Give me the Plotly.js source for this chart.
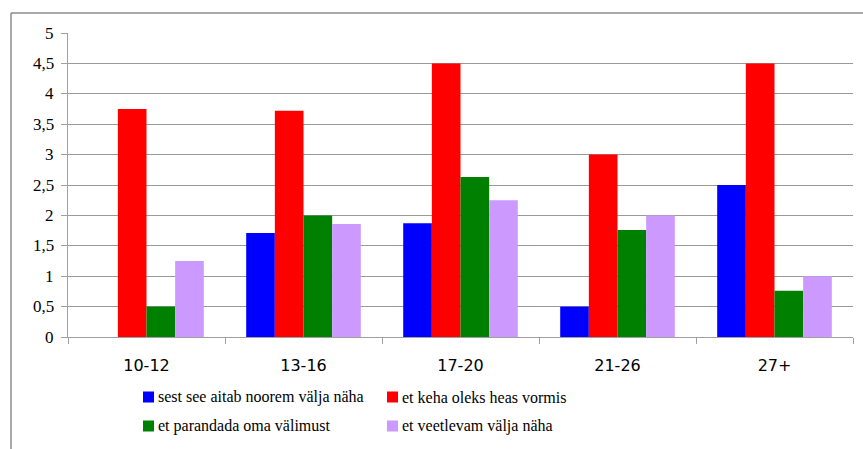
<!DOCTYPE html>
<html><head><meta charset="utf-8">
<script src="https://cdn.plot.ly/plotly-3.0.1.min.js"></script>
<style>
html,body{margin:0;padding:0;background:#fff}
#c{width:863px;height:449px}
#fontwarm{position:absolute;left:-9999px;top:0;font-family:'Liberation Serif';font-size:16px}
</style>
</head><body><span id="fontwarm">sest see aitab noorem välja näha 0,5</span><div id="c"></div>
<script>
const categories = ["10-12","13-16","17-20","21-26","27+"];
const seriesNames = ["sest see aitab noorem välja näha","et keha oleks heas vormis","et parandada oma välimust","et veetlevam välja näha"];
const younger = [0, 1.71, 1.87, 0.5, 2.5];
const fit = [3.75, 3.72, 4.5, 3, 4.5];
const appearance = [0.5, 2, 2.63, 1.76, 0.76];
const attractive = [1.25, 1.86, 2.25, 2, 1];
const yTicks = [0,0.5,1,1.5,2,2.5,3,3.5,4,4.5,5];
const yTickText = ["0","0,5","1","1,5","2","2,5","3","3,5","4","4,5","5"];
const colors = ["#0000ff","#ff0000","#008000","#cc99ff"];

const vals = [younger, fit, appearance, attractive];
const traces = vals.map((v,i)=>({
  type:"bar", x:categories, y:v, name:seriesNames[i],
  marker:{color:colors[i], line:{width:0}},
  showlegend:false, hoverinfo:"skip"
}));

const W=863,H=449,L=68,R=10,T=33,B=112;
const pw=W-L-R, ph=H-T-B;
const px=x=>(x-L)/pw, py=y=>(H-B-y)/ph;
const SERIF="Liberation Serif";

const yLabelAnn = yTicks.map((v,i)=>({
  xref:"paper", yref:"y", x:px(56), y:v, xanchor:"right", yanchor:"middle",
  showarrow:false, text:yTickText[i], font:{family:SERIF,size:17,color:"#000"}
}));

const legCols=[143,387], legRows=[397,426];
const legendAnn=[], legendShapes=[];
seriesNames.forEach((n,i)=>{
  const cx=legCols[i%2], cy=legRows[Math.floor(i/2)];
  legendShapes.push({type:"rect",xref:"paper",yref:"paper",x0:px(cx),x1:px(cx+11),y0:py(cy+5.5),y1:py(cy-5.5),fillcolor:colors[i],line:{width:0}});
  legendAnn.push({xref:"paper",yref:"paper",x:px(cx+13),y:py(cy),xanchor:"left",yanchor:"middle",showarrow:false,text:n,font:{family:SERIF,size:16,color:"#000"}});
});

const layout={
  width:W,height:H,
  margin:{l:L,r:R,t:T,b:B,autoexpand:false},
  paper_bgcolor:"#fff",plot_bgcolor:"#fff",
  barmode:"group",bargap:0.27,bargroupgap:0,
  showlegend:false,
  xaxis:{
    type:"category",showgrid:false,showline:true,linecolor:"#a0a0a0",linewidth:1,
    ticks:"outside",tickson:"boundaries",ticklen:6,tickcolor:"#a0a0a0",
    tickfont:{family:"DejaVu Sans",size:16,color:"#000"},ticklabelstandoff:14,
    zeroline:false,fixedrange:true
  },
  yaxis:{
    range:[0,5],tickvals:yTicks,showticklabels:false,
    showgrid:true,gridcolor:"#9a9a9a",gridwidth:1,
    showline:true,linecolor:"#a0a0a0",linewidth:1,
    ticks:"outside",ticklen:6,tickcolor:"#a0a0a0",
    zeroline:false,fixedrange:true
  },
  annotations: yLabelAnn.concat(legendAnn),
  shapes:[
    {type:"line",xref:"paper",yref:"paper",x0:px(11),x1:px(11),y0:py(13),y1:py(449),line:{color:"#8c8c8c",width:1.5}},
    {type:"line",xref:"paper",yref:"paper",x0:px(11),x1:px(863),y0:py(13),y1:py(13),line:{color:"#8c8c8c",width:1.5}}
  ].concat(legendShapes)
};
function draw(){ Plotly.newPlot("c",traces,layout,{staticPlot:true,displayModeBar:false}); }
draw();
if (document.fonts && document.fonts.load) {
  Promise.all([document.fonts.load("16px 'Liberation Serif'"), document.fonts.load("16px 'DejaVu Sans'")])
    .then(()=>document.fonts.ready).then(()=>draw()).catch(()=>{});
}
</script></body></html>
